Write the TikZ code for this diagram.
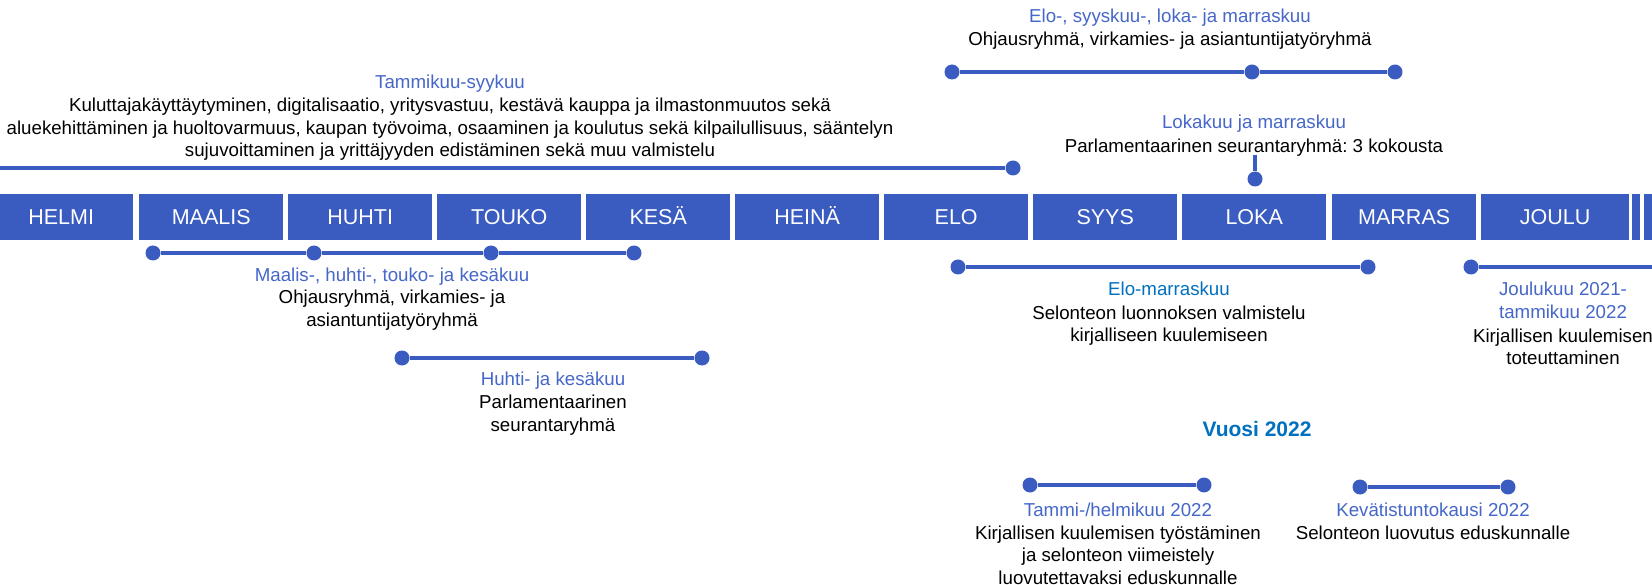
\documentclass[tikz,border=0pt]{standalone}
\usepackage{fontspec}
\setmainfont{Liberation Sans}
\frenchspacing
\definecolor{barblue}{HTML}{3A5BBF}
\definecolor{ttlblue}{HTML}{4667C9}
\definecolor{accblue}{HTML}{0070C0}
\begin{document}
\frenchspacing
\begin{tikzpicture}[x=1pt,y=-1pt,
  month/.style={fill=barblue, text=white, minimum height=46pt, inner sep=0pt,
    text height=15.5pt, text depth=0pt, anchor=north west,
    font=\fontsize{21.5}{24}\selectfont},
  dot/.style={circle, fill=barblue, minimum size=15pt, inner sep=0pt},
  conn/.style={draw=barblue, line width=4pt},
  ttl/.style={text=ttlblue, font=\fontsize{18.7}{22.5}\selectfont, inner sep=0pt, anchor=base},
  acc/.style={text=accblue, font=\fontsize{18.7}{22.5}\selectfont, inner sep=0pt, anchor=base},
  body/.style={font=\fontsize{18.7}{22.5}\selectfont, align=center, inner sep=0pt, anchor=base},
  yearlbl/.style={text=accblue, font=\fontsize{21}{24}\selectfont\bfseries, inner sep=0pt, anchor=base}
]
\useasboundingbox (0,0) rectangle (1652,585);
\fill[white] (0,0) rectangle (1652,585);

% month bar
\node[month, minimum width=144pt] (helmi) at (-11,194) {HELMI};
\node[month, minimum width=144pt] (maalis) at (139,194) {MAALIS};
\node[month, minimum width=144pt] (huhti) at (288,194) {HUHTI};
\node[month, minimum width=144pt] (touko) at (437,194) {TOUKO};
\node[month, minimum width=144pt] (kesa) at (586,194) {KESÄ};
\node[month, minimum width=144pt] (heina) at (735,194) {HEINÄ};
\node[month, minimum width=144pt] (elo) at (884,194) {ELO};
\node[month, minimum width=144pt] (syys) at (1033,194) {SYYS};
\node[month, minimum width=144pt] (loka) at (1182,194) {LOKA};
\node[month, minimum width=144pt] (marras) at (1332,194) {MARRAS};
\node[month, minimum width=148pt] (joulu) at (1481,194) {JOULU};
\node[month, minimum width=8pt] (tammi22) at (1632,194) {};
\node[month, minimum width=20pt] (helmi22) at (1644,194) {};

% top: Elo-, syyskuu-, loka- ja marraskuu
\node[ttl] (t1) at (1170,23) {Elo-, syyskuu-, loka- ja marraskuu};
\node[body] (b1) at (1170,46) {Ohjausryhmä, virkamies- ja asiantuntijatyöryhmä};
\node[dot] (d1a) at (952,72) {};
\node[dot] (d1b) at (1252,72) {};
\node[dot] (d1c) at (1395,72) {};
\draw[conn] (d1a) -- (d1b);
\draw[conn] (d1b) -- (d1c);

% Tammikuu-syykuu
\node[ttl] (t2) at (450,89) {Tammikuu-syykuu};
\node[body] (b2) at (450,157) {Kuluttajakäyttäytyminen, digitalisaatio, yritysvastuu, kestävä kauppa ja ilmastonmuutos sekä\\
aluekehittäminen ja huoltovarmuus, kaupan työvoima, osaaminen ja koulutus sekä kilpailullisuus, sääntelyn\\
sujuvoittaminen ja yrittäjyyden edistäminen sekä muu valmistelu};
\coordinate (c2) at (0,168);
\node[dot] (d2) at (1013,168) {};
\draw[conn] (c2) -- (d2);

% Lokakuu ja marraskuu
\node[ttl] (t3) at (1254,129) {Lokakuu ja marraskuu};
\node[body] (b3) at (1254,153) {Parlamentaarinen seurantaryhmä: 3 kokousta};
\coordinate (c3) at (1255,155);
\node[dot] (d3) at (1255,179) {};
\draw[conn] (c3) -- (d3);

% Maalis- ... kesäkuu
\node[dot] (d4a) at (153,253) {};
\node[dot] (d4b) at (314,253) {};
\node[dot] (d4c) at (491,253) {};
\node[dot] (d4d) at (634,253) {};
\draw[conn] (d4a) -- (d4b);
\draw[conn] (d4b) -- (d4c);
\draw[conn] (d4c) -- (d4d);
\node[ttl] (t4) at (392,282) {Maalis-, huhti-, touko- ja kesäkuu};
\node[body] (b4) at (392,326.5) {Ohjausryhmä, virkamies- ja\\asiantuntijatyöryhmä};

% Huhti- ja kesäkuu
\node[dot] (d5a) at (402,358) {};
\node[dot] (d5b) at (702,358) {};
\draw[conn] (d5a) -- (d5b);
\node[ttl] (t5) at (553,385) {Huhti- ja kesäkuu};
\node[body] (b5) at (553,431) {Parlamentaarinen\\seurantaryhmä};

% Elo-marraskuu
\node[dot] (d6a) at (958,267) {};
\node[dot] (d6b) at (1368,267) {};
\draw[conn] (d6a) -- (d6b);
\node[acc] (t6) at (1169,296) {Elo-marraskuu};
\node[body] (b6) at (1169,341.5) {Selonteon luonnoksen valmistelu\\kirjalliseen kuulemiseen};

% Joulukuu 2021 - tammikuu 2022
\node[dot] (d7) at (1471,267) {};
\coordinate (c7) at (1652,267);
\draw[conn] (d7) -- (c7);
\node[ttl, align=center] (t7) at (1563,318.5) {Joulukuu 2021-\\tammikuu 2022};
\node[body] (b7) at (1563,364.5) {Kirjallisen kuulemisen\\toteuttaminen};

% Vuosi 2022
\node[yearlbl] (y22) at (1257,436) {Vuosi 2022};

% Tammi-/helmikuu 2022
\node[dot] (d8a) at (1030,485) {};
\node[dot] (d8b) at (1204,485) {};
\draw[conn] (d8a) -- (d8b);
\node[ttl] (t8) at (1118,516) {Tammi-/helmikuu 2022};
\node[body] (b8) at (1118,584) {Kirjallisen kuulemisen työstäminen\\ja selonteon viimeistely\\luovutettavaksi eduskunnalle};

% Kevätistuntokausi 2022
\node[dot] (d9a) at (1360,487) {};
\node[dot] (d9b) at (1508,487) {};
\draw[conn] (d9a) -- (d9b);
\node[ttl] (t9) at (1433,516) {Kevätistuntokausi 2022};
\node[body] (b9) at (1433,539) {Selonteon luovutus eduskunnalle};
\end{tikzpicture}
\end{document}
